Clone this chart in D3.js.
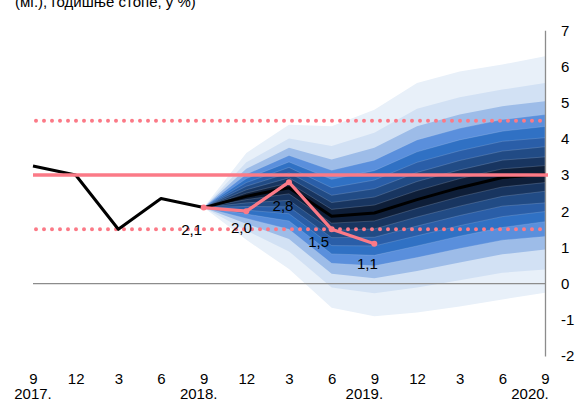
<!DOCTYPE html>
<html><head><meta charset="utf-8">
<script src="https://cdn.jsdelivr.net/npm/d3@7/dist/d3.min.js"></script>
<style>
html,body{margin:0;padding:0;background:#fff;}
svg{display:block;font-family:"Liberation Sans",Arial,sans-serif;}
</style></head>
<body>
<svg id="c" width="578" height="403"></svg>
<script>
// ---- data ----
const months = ["9","12","3","6","9","12","3","6","9","12","3","6","9"];
const years = ["2017.","2018.","2019.","2020."];
const yearIdx = [0,4,8,12];
const yTicks = [-2,-1,0,1,2,3,4,5,6,7];
const history = [3.25, 3.0, 1.5, 2.35, 2.1];            // idx 0..4
const projection = [2.1, 2.41, 2.65, 1.86, 1.95, 2.32, 2.65, 2.93, 3.02]; // idx 4..12
const actual = [2.1, 2.0, 2.8, 1.5, 1.1];               // idx 4..8
const actualLabels = ["2,1","2,0","2,8","1,5","1,1"];
const target = 3, tolLow = 1.5, tolHigh = 4.5;
// fan band edges, idx 4..12 (inner -> outer)
const hi1 = [2.1, 2.50, 2.78, 2.05, 2.17, 2.57, 2.90, 3.17, 3.26];
const hi2 = [2.1, 2.59, 2.92, 2.24, 2.39, 2.82, 3.14, 3.41, 3.50];
const hi3 = [2.1, 2.69, 3.06, 2.44, 2.62, 3.07, 3.40, 3.66, 3.78];
const hi4 = [2.1, 2.79, 3.21, 2.65, 2.86, 3.35, 3.67, 3.93, 4.03];
const hi5 = [2.1, 2.90, 3.36, 2.88, 3.12, 3.64, 3.97, 4.21, 4.34];
const hi6 = [2.1, 3.02, 3.54, 3.13, 3.41, 3.97, 4.29, 4.53, 4.67];
const hi7 = [2.1, 3.17, 3.75, 3.43, 3.75, 4.35, 4.67, 4.90, 5.04];
const hi8 = [2.1, 3.35, 4.01, 3.80, 4.17, 4.83, 5.15, 5.36, 5.54];
const hi9 = [2.1, 3.61, 4.39, 4.35, 4.80, 5.54, 5.86, 6.05, 6.28];
const lo1 = [2.1, 2.32, 2.48, 1.67, 1.73, 2.08, 2.40, 2.67, 2.79];
const lo2 = [2.1, 2.23, 2.30, 1.47, 1.51, 1.84, 2.14, 2.41, 2.55];
const lo3 = [2.1, 2.13, 2.12, 1.27, 1.28, 1.59, 1.88, 2.14, 2.23];
const lo4 = [2.1, 2.03, 1.93, 1.05, 1.04, 1.32, 1.60, 1.85, 1.99];
const lo5 = [2.1, 1.92, 1.73, 0.82, 0.78, 1.04, 1.31, 1.55, 1.71];
const lo6 = [2.1, 1.80, 1.50, 0.56, 0.49, 0.72, 0.97, 1.20, 1.30];
const lo7 = [2.1, 1.65, 1.23, 0.27, 0.15, 0.35, 0.58, 0.81, 0.94];
const lo8 = [2.1, 1.47, 0.89, -0.11, -0.27, -0.11, 0.09, 0.30, 0.39];
const lo9 = [2.1, 1.21, 0.40, -0.67, -0.90, -0.80, -0.63, -0.44, -0.25];

// ---- styles / layout ----
const bandColors = ["#0e1e38","#183560","#214b85","#2a5ea8","#3071c4","#5a8fdc","#9dbce8","#d2e1f4","#e8f0f9"];
const pink = "#fb7a87";
const FS = 15;
const labelDx = [-12, -5, -6, -13, -7];
const labelDy = [27, 22, 29, 18, 25];

const svg = d3.select("#c");
const x = d3.scaleLinear().domain([0,12]).range([33,545]);
const y = d3.scaleLinear().domain([-2,7]).range([356,30.2]);

// title fragment (clipped at top, as in the original)
svg.append("text").attr("x",15).attr("y",7).attr("font-size",FS).attr("fill","#000")
  .text("(мг.), годишње стопе, у %)");

// fan
const his = [hi1,hi2,hi3,hi4,hi5,hi6,hi7,hi8,hi9];
const los = [lo1,lo2,lo3,lo4,lo5,lo6,lo7,lo8,lo9];
const fanG = svg.append("g");
for (let k = 8; k >= 0; k--) {
  const pts = his[k].map((v,i)=>({i:i+4, hi:v, lo:los[k][i]}));
  fanG.append("path").datum(pts)
    .attr("d", d3.area().x(d=>x(d.i)).y0(d=>y(d.lo)).y1(d=>y(d.hi)))
    .attr("fill", bandColors[k])
    .attr("stroke", k < 6 ? "rgba(200,215,235,0.35)" : "none")
    .attr("stroke-width", 0.6);
}

// zero line
svg.append("line").attr("x1",x(0)).attr("x2",x(12)).attr("y1",y(0)).attr("y2",y(0))
  .attr("stroke","#8c8c8c").attr("stroke-width",1.3);

// right axis
const ya = svg.append("g").attr("transform",`translate(${x(12)},0)`)
  .call(d3.axisRight(y).tickValues(yTicks).tickSize(0).tickPadding(16).tickFormat(d=>String(d)));
ya.select(".domain").attr("stroke","#8c8c8c").attr("stroke-width",1.3);
ya.selectAll("text").attr("font-size",FS).attr("fill","#000").attr("font-family","Liberation Sans, Arial, sans-serif");

// x axis labels
const xa = svg.append("g").attr("transform",`translate(0,373)`)
  .call(d3.axisBottom(x).tickValues(d3.range(13)).tickSize(0).tickPadding(0).tickFormat((d,i)=>months[i]));
xa.select(".domain").remove();
xa.selectAll("text").attr("font-size",FS).attr("fill","#000").attr("font-family","Liberation Sans, Arial, sans-serif");
svg.append("g").selectAll("text").data(years).join("text")
  .attr("x",(d,i)=>x(yearIdx[i]) - 1.25*yearIdx[i]).attr("y",399)
  .attr("text-anchor","middle").attr("font-size",FS).attr("fill","#000").text(d=>d);

// tolerance band dotted lines
[tolLow, tolHigh].forEach(v=>{
  svg.append("line").attr("x1",x(0)+3).attr("x2",x(12)).attr("y1",y(v)).attr("y2",y(v))
    .attr("stroke",pink).attr("stroke-width",4).attr("stroke-linecap","round")
    .attr("stroke-dasharray","0 8");
});

// black line (history + projection)
const blackPts = history.map((v,i)=>[i,v]).concat(projection.slice(1).map((v,i)=>[i+5,v]));
svg.append("path").datum(blackPts)
  .attr("d", d3.line().x(d=>x(d[0])).y(d=>y(d[1])))
  .attr("fill","none").attr("stroke","#000").attr("stroke-width",3).attr("stroke-linejoin","round");

// target line
svg.append("line").attr("x1",x(0)).attr("x2",x(12)+3).attr("y1",y(target)).attr("y2",y(target))
  .attr("stroke",pink).attr("stroke-width",3.5);

// actual line
const actPts = actual.map((v,i)=>[i+4,v]);
svg.append("path").datum(actPts)
  .attr("d", d3.line().x(d=>x(d[0])).y(d=>y(d[1])))
  .attr("fill","none").attr("stroke",pink).attr("stroke-width",3.3).attr("stroke-linejoin","round");
svg.append("g").selectAll("circle").data(actPts).join("circle")
  .attr("cx",d=>x(d[0])).attr("cy",d=>y(d[1])).attr("r",3).attr("fill",pink);
svg.append("g").selectAll("text").data(actPts).join("text")
  .attr("x",(d,i)=>x(d[0])+labelDx[i]).attr("y",(d,i)=>y(d[1])+labelDy[i])
  .attr("text-anchor","middle").attr("font-size",FS).attr("fill","#000")
  .text((d,i)=>actualLabels[i]);
</script>
</body></html>
